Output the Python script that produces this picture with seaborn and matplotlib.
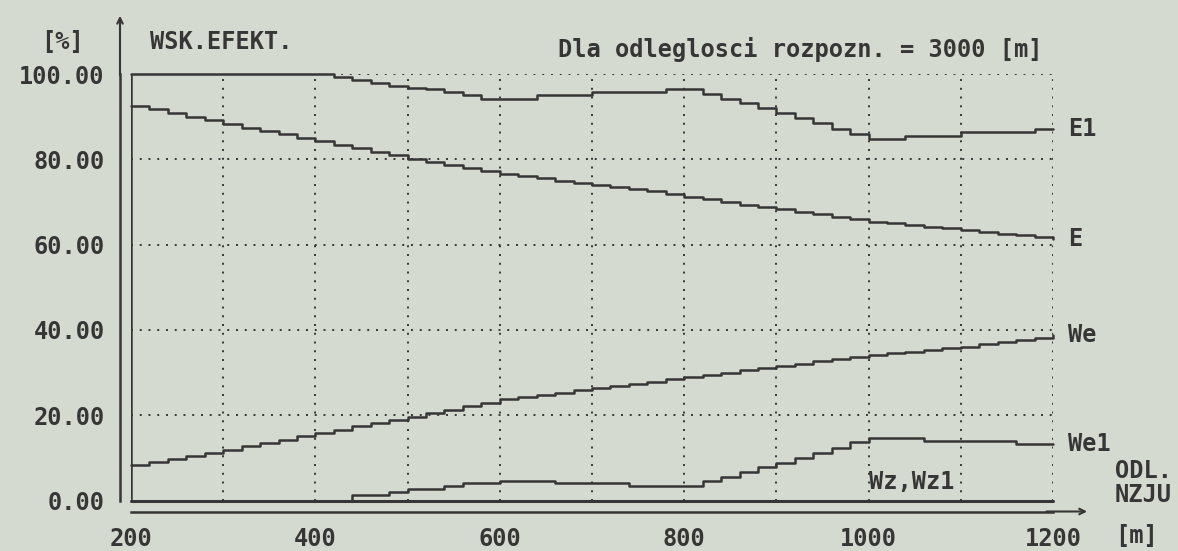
import matplotlib
matplotlib.use("Agg")
import matplotlib.pyplot as plt
from matplotlib import transforms
import seaborn as sns

dist = list(range(200, 1201, 20))

e1 = [100, 100, 100, 100, 100, 100, 100, 100, 100, 100,
      100, 99.4, 98.6, 97.8, 97.2, 96.8, 96.4, 95.7, 95.0, 94.2,
      94.2, 94.2, 95.0, 95.0, 95.0, 95.7, 95.7, 95.7, 95.7, 96.4,
      96.4, 95.3, 94.2, 93.1, 92.0, 90.8, 89.6, 88.4, 87.2, 86.0,
      84.8, 84.8, 85.5, 85.5, 85.5, 86.5, 86.5, 86.5, 86.5, 87.1,
      87.1]

e = [92.5, 91.7, 90.8, 90.0, 89.1, 88.2, 87.4, 86.7, 85.9, 85.1,
     84.3, 83.4, 82.6, 81.7, 80.9, 80.0, 79.3, 78.6, 77.9, 77.2,
     76.5, 76.0, 75.5, 75.0, 74.5, 74.0, 73.5, 73.0, 72.5, 71.8,
     71.2, 70.6, 70.0, 69.4, 68.9, 68.3, 67.7, 67.1, 66.5, 66.0,
     65.4, 65.0, 64.6, 64.2, 63.8, 63.4, 63.0, 62.6, 62.2, 61.7,
     61.3]

we = [8.3, 9.0, 9.7, 10.4, 11.2, 11.9, 12.7, 13.5, 14.3, 15.1,
      15.9, 16.6, 17.4, 18.1, 18.9, 19.6, 20.4, 21.2, 22.1, 22.9,
      23.7, 24.2, 24.7, 25.3, 25.8, 26.4, 26.9, 27.4, 27.9, 28.4,
      28.9, 29.4, 30.0, 30.5, 31.1, 31.6, 32.1, 32.6, 33.1, 33.6,
      34.1, 34.5, 34.9, 35.3, 35.7, 36.1, 36.6, 37.1, 37.7, 38.2,
      38.7]

# We1 only starts at about 420 m
we1_dist = list(range(420, 1201, 20))
we1 = [0.0, 1.2, 1.2, 2.0, 2.6, 2.6, 3.3, 4.0, 4.0, 4.6,
       4.6, 4.6, 4.2, 4.2, 4.2, 4.2, 3.5, 3.5, 3.5, 3.5,
       4.5, 5.5, 6.6, 7.8, 8.9, 10.0, 11.2, 12.4, 13.6, 14.7,
       14.7, 14.7, 13.9, 13.9, 13.9, 13.9, 13.9, 13.2, 13.2, 13.2]

wz = [0.0] * len(dist)

series = [("E1", dist, e1), ("E", dist, e), ("We", dist, we), ("We1", we1_dist, we1)]

y_ticks = [0, 20, 40, 60, 80, 100]
x_ticks = list(range(200, 1201, 100))
x_labels = [str(t) if t % 200 == 0 else "" for t in x_ticks]

BG = "#d4dacf"
INK = "#363636"
FS = 17

sns.set_style("white")
plt.rcParams["font.family"] = ["DejaVu Sans Mono"]
plt.rcParams["font.weight"] = "bold"

W, H = 1178, 551
fig = plt.figure(figsize=(W / 100, H / 100), dpi=100, facecolor=BG)
ax = fig.add_axes([131 / W, 1 - 500.5 / H, 922 / W, 426.5 / H], facecolor=BG)


def px(x, y):
    return x / W, 1 - y / H


# curves, drawn as stair steps like the plotter output
for name, xs, ys in series:
    sns.lineplot(x=xs, y=ys, ax=ax, color=INK, lw=1.8, drawstyle="steps-post",
                 estimator=None, sort=False, clip_on=False)
    ax.annotate(name, xy=(xs[-1], ys[-1]), xytext=(11, 0), textcoords="offset points",
                va="center", ha="left", fontsize=FS, color=INK, annotation_clip=False)

sns.lineplot(x=dist, y=wz, ax=ax, color=INK, lw=2.2, estimator=None, sort=False, clip_on=False)
ax.text(1000, 1.5, "Wz,Wz1", fontsize=FS, color=INK, ha="left", va="bottom")

ax.axvline(dist[0], color=INK, lw=1.8)

ax.set_xlim(200, 1200)
ax.set_ylim(0, 100)
ax.set_xticks(x_ticks)
ax.set_xticklabels(x_labels)
ax.set_yticks(y_ticks)
ax.set_yticklabels([f"{t:.2f}" for t in y_ticks])
ax.set_xlabel("")
ax.set_ylabel("")

ax.grid(True, color=INK, linestyle=(0, (1, 3.5)), lw=1.4)
ax.set_axisbelow(True)

for side in ["top", "right"]:
    ax.spines[side].set_visible(False)
for side in ["left", "bottom"]:
    ax.spines[side].set_position(("outward", 8))
    ax.spines[side].set_color(INK)
    ax.spines[side].set_linewidth(1.8)

ax.tick_params(axis="both", direction="out", length=7, width=1.5, color=INK,
               labelsize=FS, labelcolor=INK, pad=4)

# arrow heads on the two outer axes
left_tr = transforms.offset_copy(ax.transAxes, fig=fig, x=-11, y=0, units="dots")
ax.annotate("", xy=(0, 1.143), xytext=(0, 0.99), xycoords=left_tr, textcoords=left_tr,
            arrowprops=dict(arrowstyle="->", color=INK, lw=1.5), annotation_clip=False)
bot_tr = transforms.offset_copy(ax.transAxes, fig=fig, x=0, y=-11, units="dots")
ax.annotate("", xy=(1.04, 0), xytext=(0.99, 0), xycoords=bot_tr, textcoords=bot_tr,
            arrowprops=dict(arrowstyle="->", color=INK, lw=1.5), annotation_clip=False)

fig.text(*px(63, 42), "[%]", fontsize=FS, color=INK, ha="center", va="center")
fig.text(*px(150, 42), "WSK.EFEKT.", fontsize=FS, color=INK, ha="left", va="center")
fig.text(*px(1043, 50), "Dla odleglosci rozpozn. = 3000 [m]", fontsize=FS, color=INK,
         ha="right", va="center")
fig.text(*px(1172, 483), "ODL.\nNZJU", fontsize=FS, color=INK, ha="right", va="center",
         linespacing=0.95)
fig.text(*px(1115, 536), "[m]", fontsize=FS, color=INK, ha="left", va="center")

fig.savefig("out.png", dpi=100, facecolor=BG)
